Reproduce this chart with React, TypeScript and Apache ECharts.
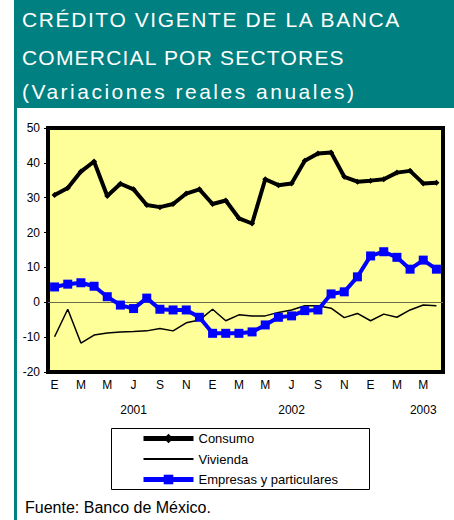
import React, { useEffect, useRef } from "react";
import * as echarts from "echarts";

const categories = [
  "2001-01", "2001-02", "2001-03", "2001-04", "2001-05", "2001-06",
  "2001-07", "2001-08", "2001-09", "2001-10", "2001-11", "2001-12",
  "2002-01", "2002-02", "2002-03", "2002-04", "2002-05", "2002-06",
  "2002-07", "2002-08", "2002-09", "2002-10", "2002-11", "2002-12",
  "2003-01", "2003-02", "2003-03", "2003-04", "2003-05", "2003-06",
];
const monthLetters = ["E", "F", "M", "A", "M", "J", "J", "A", "S", "O", "N", "D"];
const yearLabels: Record<number, string> = { 6: "2001", 18: "2002", 28: "2003" };

const consumo = [
  30.8, 32.8, 37.5, 40.4, 30.5, 34.0, 32.4, 27.9, 27.3, 28.2, 31.2, 32.4,
  28.2, 29.2, 24.1, 22.6, 35.3, 33.6, 34.1, 40.6, 42.7, 43.0, 36.0, 34.6,
  34.9, 35.3, 37.2, 37.7, 34.1, 34.3,
];
const vivienda = [
  -9.9, -2.0, -11.7, -9.4, -8.8, -8.5, -8.4, -8.2, -7.5, -8.2, -5.9, -5.1,
  -2.0, -5.3, -3.6, -3.9, -3.9, -2.9, -2.2, -1.0, -1.0, -1.7, -4.4, -3.2,
  -5.3, -3.4, -4.3, -2.2, -0.8, -1.0,
];
const empresas = [
  4.4, 5.2, 5.6, 4.6, 1.6, -0.8, -1.8, 1.2, -2.0, -2.2, -2.2, -4.3,
  -8.9, -8.9, -8.9, -8.5, -6.5, -4.3, -3.9, -2.4, -2.2, 2.4, 3.0, 7.3,
  13.3, 14.5, 12.9, 9.5, 12.1, 9.5,
];

const titleLines = [
  "CRÉDITO VIGENTE DE LA BANCA",
  "COMERCIAL POR SECTORES",
  "(Variaciones reales anuales)",
];
const titleSpacing = [1.6, 1.2, 2.5];
const sourceText = "Fuente: Banco de México.";

const FONT = "'Liberation Sans', Arial, sans-serif";
const TEAL = "#008080";

export default function App() {
  const ref = useRef<HTMLDivElement>(null);
  useEffect(() => {
    if (!ref.current) return;
    const chart = echarts.init(ref.current, undefined, { renderer: "svg" });
    const titleY = [19, 57, 91];
    chart.setOption({
      animation: false,
      backgroundColor: "#ffffff",
      textStyle: { fontFamily: FONT },
      graphic: [
        { type: "rect", shape: { x: 14, y: 0, width: 440, height: 108 }, style: { fill: TEAL }, z: -1 },
        { type: "rect", shape: { x: 14, y: 0, width: 3, height: 520 }, style: { fill: TEAL }, z: -1 },
        {
          type: "rect",
          shape: { x: 111.5, y: 428.5, width: 258, height: 61 },
          style: { fill: "#ffffff", stroke: "#000000", lineWidth: 1 },
          z: -1,
        },
        ...titleLines.map((t, i) => ({
          type: "text",
          x: 22,
          y: titleY[i],
          style: {
            text: t,
            fill: "#ffffff",
            font: `21px ${FONT}`,
            verticalAlign: "middle",
            align: "left",
          },
        })),
        {
          type: "text",
          x: 25,
          y: 507,
          style: {
            text: sourceText,
            fill: "#000000",
            font: `16px ${FONT}`,
            verticalAlign: "middle",
            align: "left",
          },
        },
      ],
      grid: {
        left: 48,
        top: 128,
        width: 395,
        height: 244,
        show: true,
        backgroundColor: "#FFFF99",
        borderColor: "#000000",
        borderWidth: 4,
      },
      legend: {
        orient: "vertical",
        left: 141,
        top: 432,
        padding: 0,
        itemWidth: 50,
        itemHeight: 12,
        itemGap: 7.5,
        textStyle: { fontSize: 13, color: "#000", fontFamily: FONT },
        data: [
          { name: "Consumo", lineStyle: { width: 5 } },
          { name: "Vivienda", icon: "path://M0,0L50,0L50,2L0,2Z" },
          { name: "Empresas y particulares", lineStyle: { width: 5 } },
        ],
      },
      xAxis: {
        type: "category",
        data: categories,
        boundaryGap: true,
        axisLine: { show: false },
        axisTick: { show: false },
        axisLabel: {
          interval: 1,
          margin: 0,
          fontSize: 12,
          color: "#000",
          lineHeight: 25,
          fontFamily: FONT,
          formatter: (_v: string, idx: number) => {
            const m = monthLetters[idx % 12];
            return yearLabels[idx] ? `${m}\n${yearLabels[idx]}` : m;
          },
        },
        splitLine: { show: false },
      },
      yAxis: {
        type: "value",
        min: -20,
        max: 50,
        interval: 10,
        axisLine: { show: false },
        axisTick: { show: true, length: 4, lineStyle: { color: "#000", width: 1 } },
        axisLabel: { fontSize: 12, color: "#000", margin: 8, fontFamily: FONT },
        splitLine: { show: false },
      },
      series: [
        {
          name: "Consumo",
          type: "line",
          data: consumo,
          symbol: "diamond",
          symbolSize: 6,
          showAllSymbol: true,
          lineStyle: { color: "#000", width: 4 },
          itemStyle: { color: "#000" },
          z: 3,
          markLine: {
            silent: true,
            symbol: "none",
            label: { show: false },
            lineStyle: { color: "#6b6b4a", width: 1, type: "solid" },
            data: [{ yAxis: 0 }],
            z: 1,
          },
        },
        {
          name: "Vivienda",
          type: "line",
          data: vivienda,
          symbol: "none",
          showSymbol: false,
          lineStyle: { color: "#000", width: 1.5 },
          itemStyle: { color: "#000" },
          z: 3,
        },
        {
          name: "Empresas y particulares",
          type: "line",
          data: empresas,
          symbol: "rect",
          symbolSize: 9,
          showAllSymbol: true,
          lineStyle: { color: "#0000FF", width: 4 },
          itemStyle: { color: "#0000FF" },
          z: 4,
        },
      ],
    });
    const applySpacing = () => {
      if (!ref.current) return;
      ref.current.querySelectorAll("text").forEach((el) => {
        const idx = titleLines.indexOf(el.textContent || "");
        if (idx >= 0) el.setAttribute("letter-spacing", String(titleSpacing[idx]));
      });
    };
    applySpacing();
    chart.on("finished", applySpacing);
    return () => chart.dispose();
  }, []);
  return (
    <div
      ref={ref}
      style={{ position: "fixed", left: 0, top: 0, width: 454, height: 520 }}
    />
  );
}
